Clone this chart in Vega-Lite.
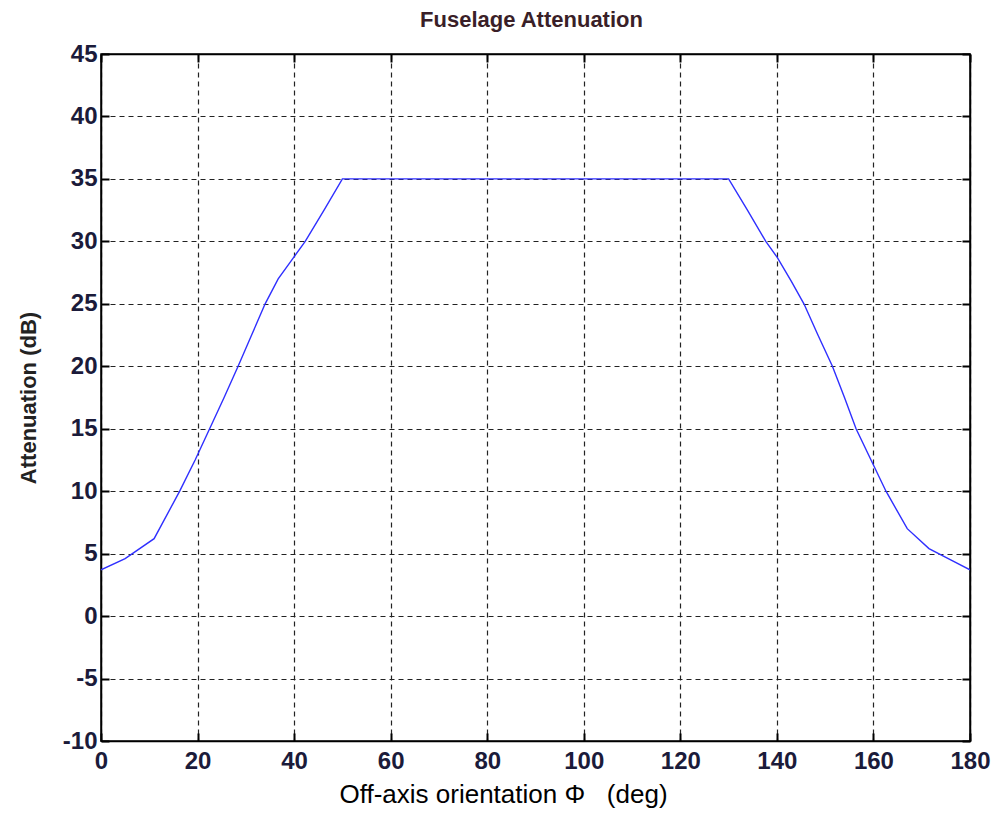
{
  "$schema": "https://vega.github.io/schema/vega-lite/v6.json",
  "width": 869,
  "height": 687,
  "autosize": "none",
  "padding": {"left": 101, "top": 54, "right": 28, "bottom": 77},
  "background": "white",
  "title": {
    "text": "Fuselage Attenuation",
    "font": "Liberation Sans",
    "fontSize": 22,
    "fontWeight": "bold",
    "color": "#3a1f28",
    "offset": 10,
    "dx": -4
  },
  "config": {
    "view": {"stroke": "#000", "strokeWidth": 1.5},
    "axis": {
      "labelFont": "Liberation Sans",
      "labelFontWeight": "bold",
      "labelFontSize": 24,
      "labelColor": "#1b1b3a",
      "titleFont": "Liberation Sans",
      "titleColor": "#222",
      "domainColor": "#000",
      "domainWidth": 1.5,
      "tickColor": "#000",
      "tickWidth": 2,
      "tickSize": -8,
      "gridColor": "#222",
      "gridDash": [5, 4],
      "gridWidth": 1.2,
      "gridOpacity": 1
    }
  },
  "data": {
    "values": [
      {"deg": 0, "att": 3.7},
      {"deg": 5, "att": 4.6},
      {"deg": 11, "att": 6.2},
      {"deg": 16.3, "att": 10},
      {"deg": 19.5, "att": 12.5},
      {"deg": 22.5, "att": 15},
      {"deg": 25.5, "att": 17.5},
      {"deg": 28.4, "att": 20},
      {"deg": 31.2, "att": 22.5},
      {"deg": 34, "att": 25},
      {"deg": 36.7, "att": 27},
      {"deg": 39.5, "att": 28.5},
      {"deg": 42.3, "att": 30},
      {"deg": 46.2, "att": 32.5},
      {"deg": 50, "att": 35},
      {"deg": 130, "att": 35},
      {"deg": 133.9, "att": 32.5},
      {"deg": 137.7, "att": 30},
      {"deg": 140.1, "att": 28.7},
      {"deg": 143, "att": 26.8},
      {"deg": 145.6, "att": 25},
      {"deg": 148.5, "att": 22.5},
      {"deg": 151.5, "att": 20},
      {"deg": 154, "att": 17.5},
      {"deg": 156.4, "att": 15},
      {"deg": 159.5, "att": 12.5},
      {"deg": 162.6, "att": 10},
      {"deg": 167, "att": 7},
      {"deg": 171.5, "att": 5.4},
      {"deg": 176, "att": 4.5},
      {"deg": 180, "att": 3.7}
    ]
  },
  "layer": [
    {
      "mark": {"type": "line", "color": "#2f2fff", "strokeWidth": 1.4, "clip": true},
      "encoding": {
        "x": {
          "field": "deg", "type": "quantitative",
          "scale": {"domain": [0, 180], "nice": false, "zero": false},
          "axis": {
            "orient": "bottom",
            "values": [0, 20, 40, 60, 80, 100, 120, 140, 160, 180],
            "labelExpr": "datum.value + ''",
            "title": "Off-axis orientation Φ\u00a0\u00a0\u00a0(deg)",
            "titleFontSize": 26,
            "titleFontWeight": "normal",
            "titleColor": "#000",
            "titlePadding": 8,
            "titleX": 402,
            "labelPadding": 16,
            "grid": true,
            "labelFlush": false
          }
        },
        "y": {
          "field": "att", "type": "quantitative",
          "scale": {"domain": [-10, 45], "nice": false, "zero": false},
          "axis": {
            "orient": "left",
            "values": [-10, -5, 0, 5, 10, 15, 20, 25, 30, 35, 40, 45],
            "labelExpr": "datum.value + ''",
            "title": "Attenuation (dB)",
            "titleFontSize": 22,
            "titleFontWeight": "bold",
            "titlePadding": 22,
            "labelPadding": 12,
            "grid": true,
            "labelFlush": false
          }
        }
      }
    },
    {
      "mark": {"type": "line", "opacity": 0},
      "encoding": {
        "x": {
          "field": "deg", "type": "quantitative",
          "axis": {
            "orient": "top",
            "values": [0, 20, 40, 60, 80, 100, 120, 140, 160, 180],
            "labels": false, "title": null, "grid": false
          }
        },
        "y": {
          "field": "att", "type": "quantitative",
          "axis": {
            "orient": "right",
            "values": [-10, -5, 0, 5, 10, 15, 20, 25, 30, 35, 40, 45],
            "labels": false, "title": null, "grid": false
          }
        }
      }
    }
  ],
  "resolve": {"axis": {"x": "independent", "y": "independent"}}
}
